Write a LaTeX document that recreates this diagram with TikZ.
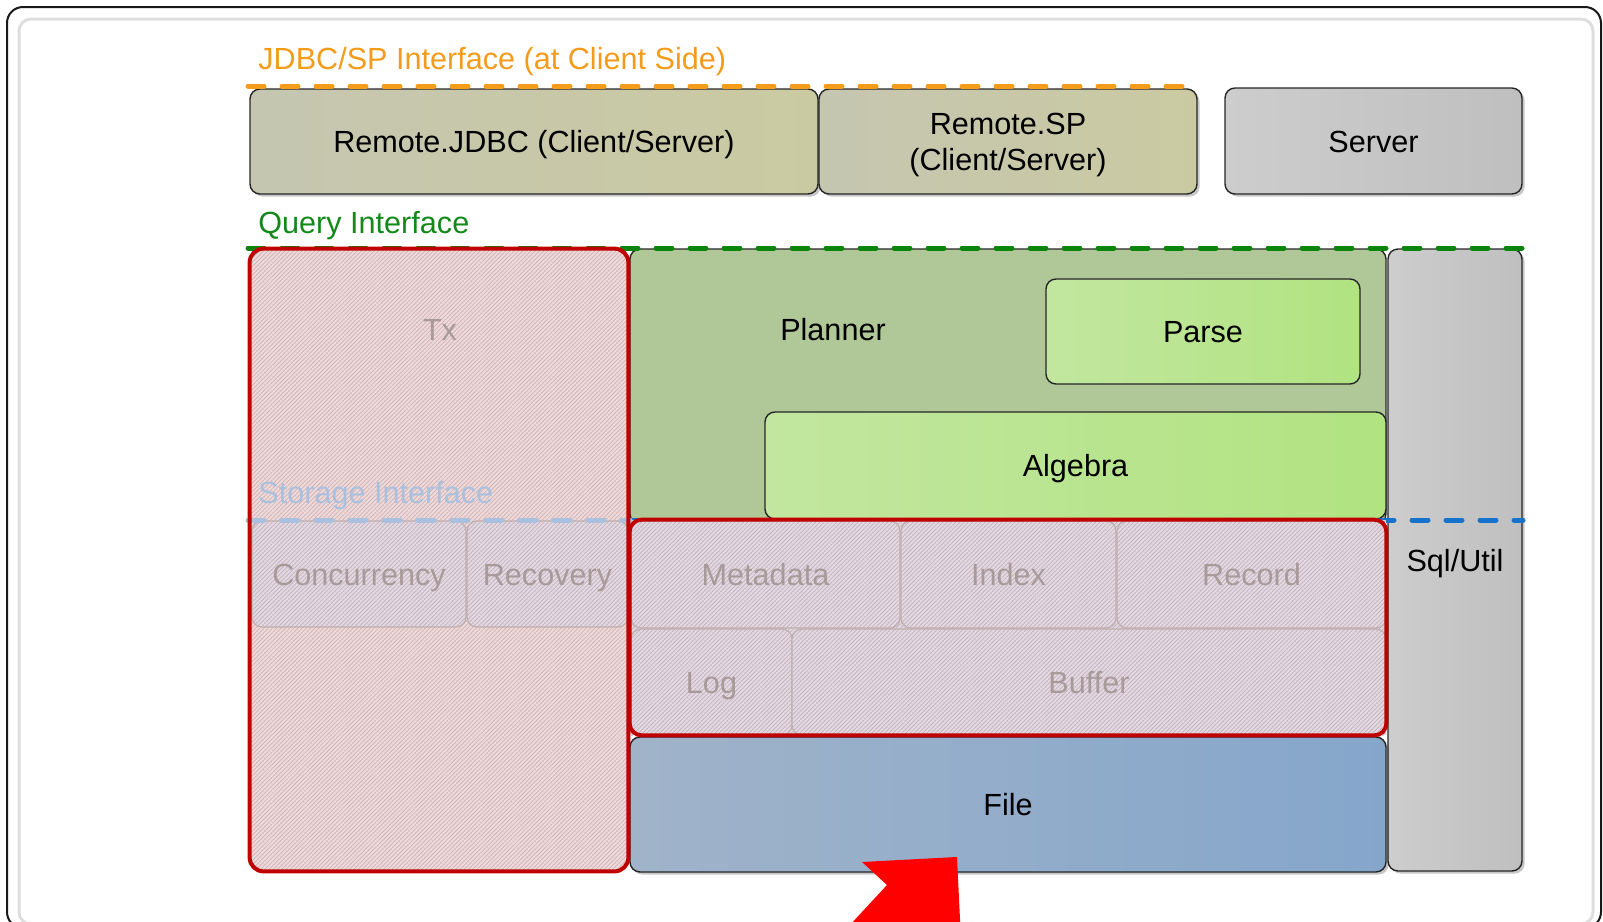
\documentclass[tikz,border=0pt]{standalone}
\usepackage{fontspec}
\setmainfont{Liberation Sans}
\usetikzlibrary{fit,shadows,patterns.meta}

\definecolor{olivL}{HTML}{C5C6B0}
\definecolor{olivR}{HTML}{CACAA2}
\definecolor{srvL}{HTML}{CDCDCD}
\definecolor{srvR}{HTML}{BFBFBF}
\definecolor{plan}{HTML}{B0C898}
\definecolor{lgL}{HTML}{C2E69F}
\definecolor{lgR}{HTML}{B1E381}
\definecolor{fileL}{HTML}{A0B3C9}
\definecolor{fileR}{HTML}{85A6CB}
\definecolor{txpink}{HTML}{EDDADA}
\definecolor{txhatch}{HTML}{D3AEB1}
\definecolor{lav}{HTML}{E2D9E2}
\definecolor{lavhatch}{HTML}{C3AFBA}
\definecolor{redline}{HTML}{C00000}
\definecolor{fadetxt}{HTML}{A99A9A}
\definecolor{fadeedge}{HTML}{BFAFAF}
\definecolor{orangeln}{HTML}{F59C1A}
\definecolor{greenln}{HTML}{0B840B}
\definecolor{blueln}{HTML}{1673CC}
\definecolor{bluefade}{HTML}{A9C1DF}
\definecolor{jdbctxt}{HTML}{F39C1C}
\definecolor{querytxt}{HTML}{13891A}

\begin{document}
\begin{tikzpicture}[x=0.5pt,y=-0.5pt,
  txt/.style={font=\fontsize{15.3}{18}\selectfont, inner sep=0pt, align=center, text height=11pt, text depth=0pt},
  box/.style={draw=black!85, line width=0.7pt, rounded corners=5pt, inner sep=0pt},
  caption/.style={label={[txt]center:#1}},
  twolinecaption/.style={label={[txt, text height=29pt]center:#1}},
  fadecaption/.style={label={[txt, text=fadetxt]center:#1}},
  shade/.style={drop shadow={shadow xshift=1.3pt, shadow yshift=-1.3pt, opacity=0.22, fill=black}},
  olive/.style={box, shade, left color=olivL, right color=olivR},
  greybox/.style={box, shade, left color=srvL, right color=srvR},
  lightgreen/.style={box, left color=lgL, right color=lgR},
  hatchpink/.style={preaction={fill=txpink}, pattern={Lines[angle=45,distance=1.5pt,line width=0.35pt]}, pattern color=txhatch},
  hatchlav/.style={preaction={fill=lav}, pattern={Lines[angle=45,distance=1.5pt,line width=0.35pt]}, pattern color=lavhatch},
  fadebox/.style={inner sep=0pt, hatchlav, draw=fadeedge, line width=0.6pt, rounded corners=5pt},
  redframe/.style={draw=redline, line width=2pt, rounded corners=6pt},
  iface/.style={line width=2.5pt, line cap=round, dash pattern=on 8pt off 9pt},
  ifacelabel/.style={font=\fontsize{15.3}{18}\selectfont, inner sep=0pt, anchor=base west}
]
\useasboundingbox (0,0) rectangle (1603,922);

% outer frame, cut at the page edge
\begin{scope}
  \clip (0,0) rectangle (1603,922);
  \draw[black!13, line width=1.5pt, rounded corners=6pt] (19,19) rectangle (1593,924);
  \draw[black!90, line width=1pt, rounded corners=8pt] (7,7) rectangle (1601,928);
\end{scope}

% client side layer
\node[olive, fit={(250,89)(818,194)}, caption={Remote.JDBC (Client/Server)}] (jdbc) {};
\node[olive, fit={(819,89)(1197,194)}, twolinecaption={Remote.SP\\(Client/Server)}] (sp) {};
\node[greybox, fit={(1225,88)(1522,194)}, caption={Server}] (server) {};
\node[ifacelabel, text=jdbctxt] (jdbclbl) at (258,69) {JDBC/SP Interface (at Client Side)};
\coordinate (jdbcL) at (248,86);
\coordinate (jdbcR) at (1198,86);
\draw[iface, orangeln] (jdbcL) -- (jdbcR);

% query layer
\node[box, fill=plan, fit={(630,249)(1386,524)}] (planner) {};
\node[txt] (plannerlbl) at (833,329) {Planner};
\node[lightgreen, fit={(1046,279)(1360,384)}, caption={Parse}] (parse) {};
\node[lightgreen, fit={(765,412)(1386,519)}, caption={Algebra}] (algebra) {};
\node[greybox, fit={(1388,249)(1522,871)}, caption={Sql/Util}] (sqlutil) {};
\node[ifacelabel, text=querytxt] (querylbl) at (258,233) {Query Interface};
\coordinate (queryL) at (248,248);
\coordinate (queryR) at (1523,248);
\draw[iface, greenln] (queryL) -- (queryR);

% storage interface line on the right side
\coordinate (storL) at (248,520);
\coordinate (storM) at (630,520);
\coordinate (storR) at (1523,520);
\draw[iface, blueln] (storM) -- (storR);

% file layer
\node[box, shade, left color=fileL, right color=fileR, fit={(630,737)(1386,872)}, caption={File}] (file) {};

% storage modules
\node[inner sep=0pt, hatchlav, fit={(630,520)(1386,735)}] (storage) {};
\node[fadebox, fit={(631,521)(900,628)}, fadecaption={Metadata}] (metadata) {};
\node[fadebox, fit={(901,521)(1116,628)}, fadecaption={Index}] (index) {};
\node[fadebox, fit={(1117,521)(1386,628)}, fadecaption={Record}] (record) {};
\node[fadebox, fit={(631,629)(792,735)}, fadecaption={Log}] (log) {};
\node[fadebox, fit={(792,629)(1386,735)}, fadecaption={Buffer}] (buffer) {};
\draw[redframe] (storage.north west) rectangle (storage.south east);

% transaction column
\node[inner sep=0pt, hatchpink, rounded corners=7pt, fit={(250,249)(628,871)}] (tx) {};
\node[txt, text=fadetxt] (txlbl) at (440,329) {Tx};
\node[ifacelabel, text=bluefade] (storlbl) at (258,503) {Storage Interface};
\node[fadebox, fit={(252,521)(466,627)}, fadecaption={Concurrency}] (concurrency) {};
\node[fadebox, fit={(467,521)(628,627)}, fadecaption={Recovery}] (recovery) {};
\draw[iface, bluefade] (storL) -- (storM);
\draw[redframe, rounded corners=7pt] (tx.north west) rectangle (tx.south east);

% red marker
\begin{scope}
  \clip (0,0) rectangle (1603,922);
  \fill[red] (862,862) -- (957,857) -- (961,940) -- (836,940) -- (887,885) -- cycle;
\end{scope}
\end{tikzpicture}
\end{document}
